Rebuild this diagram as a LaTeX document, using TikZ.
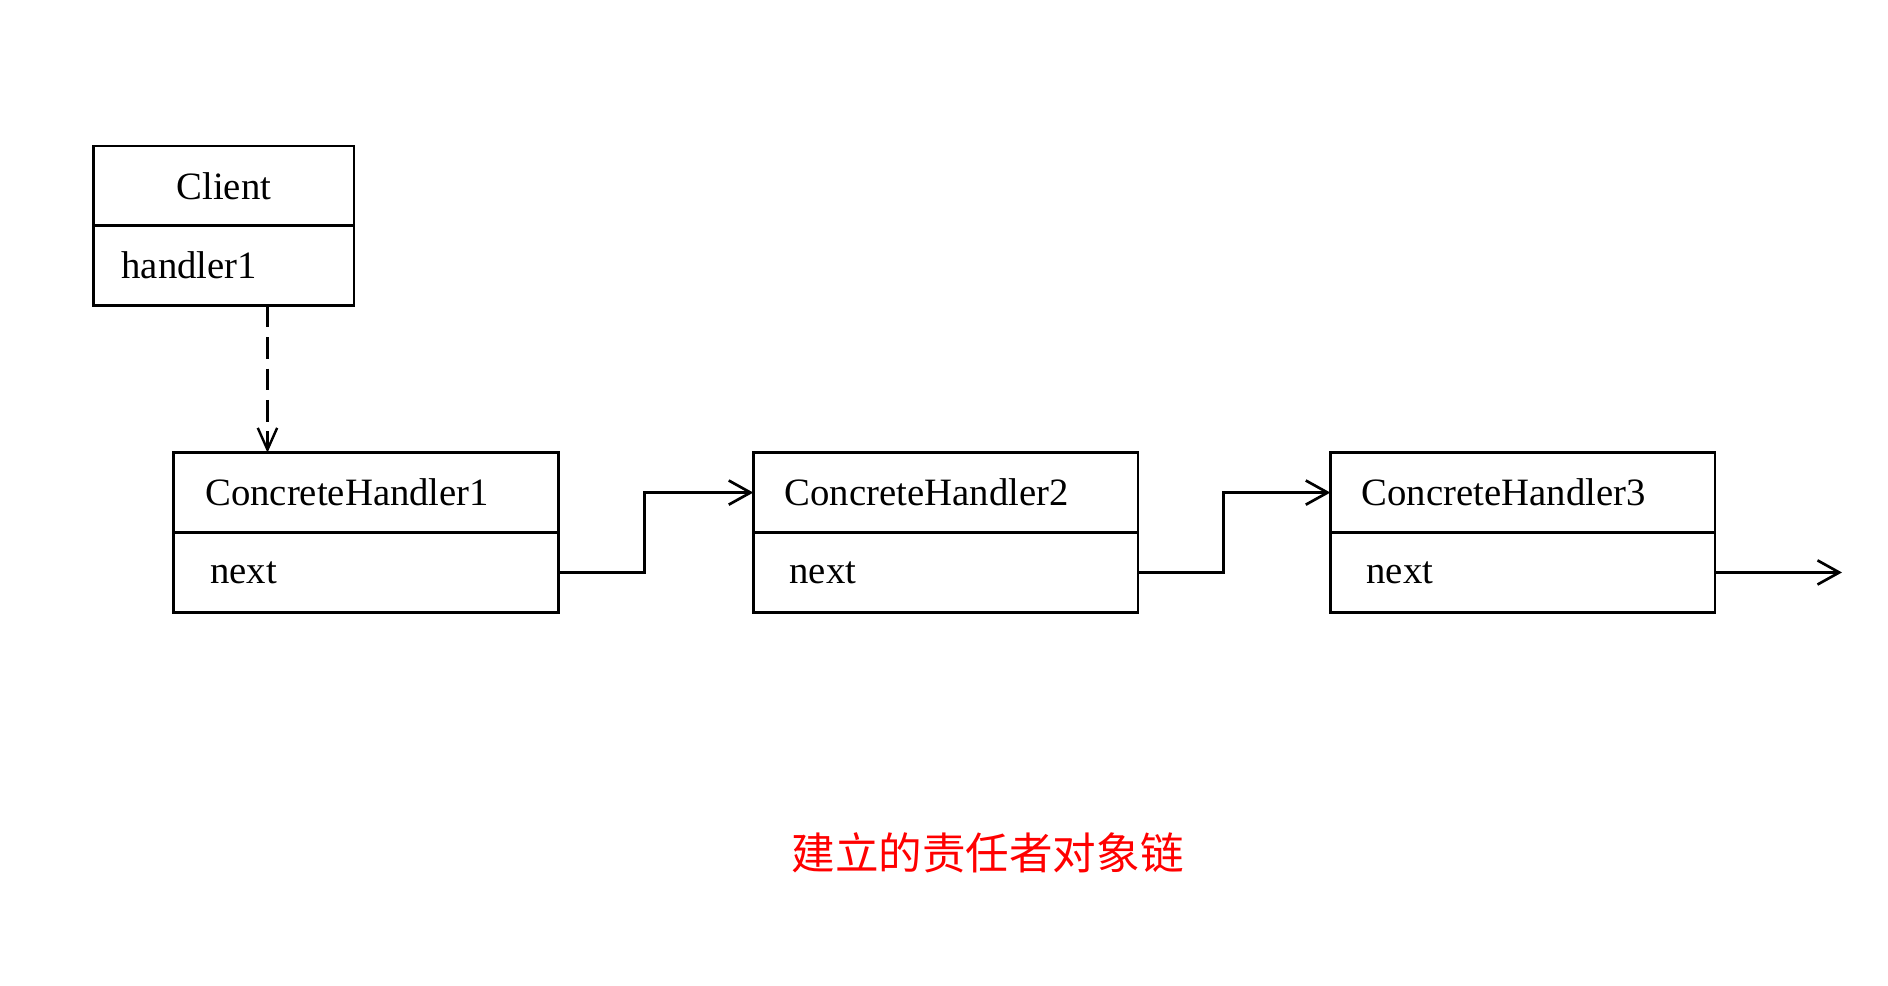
\documentclass[tikz,border=0pt]{standalone}
\usepackage{fontspec}
\setmainfont{Liberation Serif}
\newfontfamily\cjk{Noto Sans CJK SC}
\usetikzlibrary{positioning,arrows.meta}

\tikzset{
  classname/.style={draw, line width=1.1pt, outer sep=0pt, inner ysep=0pt, minimum height=33pt, font=\fontsize{16}{18}\selectfont},
  handlername/.style={classname, text width=132.9pt, inner xsep=13pt, align=left},
  handlernext/.style={classname, text width=128.9pt, inner xsep=15pt, align=left},
  link/.style={line width=1.1pt, -{Straight Barb[length=9pt,width=10pt,line width=1.1pt]}},
  uses/.style={line width=1pt, dash pattern=on 9pt off 4pt, -{Straight Barb[length=9pt,width=8pt,line width=1pt]}}
}

\begin{document}
\begin{tikzpicture}[x=0.5pt,y=-0.5pt]
\useasboundingbox (0,0) rectangle (1560,814);

% client
\node[classname, minimum width=107.5pt] (client) at (185,153.5) {Client};
\node[classname, text width=84.5pt, inner xsep=11.5pt, align=left, below=0pt of client] (clientattr) {handler1};

% handlers
\node[handlername] (ch1) at (302.5,407) {ConcreteHandler1};
\node[handlernext, below=0pt of ch1] (ch1next) {next};
\node[handlername, right=80.5pt of ch1] (ch2) {ConcreteHandler2};
\node[handlernext, below=0pt of ch2] (ch2next) {next};
\node[handlername, right=79.5pt of ch2] (ch3) {ConcreteHandler3};
\node[handlernext, below=0pt of ch3] (ch3next) {next};
\coordinate[right=52.5pt of ch3next.east] (chainend);

% links
\draw[uses] ([xshift=18pt]clientattr.south) -- ([xshift=18pt]clientattr.south |- ch1.north);
\draw[link] (ch1next.east) -- ++(71,0) |- (ch2.west);
\draw[link] (ch2next.east) -- ++(71,0) |- (ch3.west);
\draw[link] (ch3next.east) -- (chainend);

\node[text=red, font=\cjk\fontsize{18}{20}\selectfont] (caption) at (816,705) {建立的责任者对象链};

\end{tikzpicture}
\end{document}
